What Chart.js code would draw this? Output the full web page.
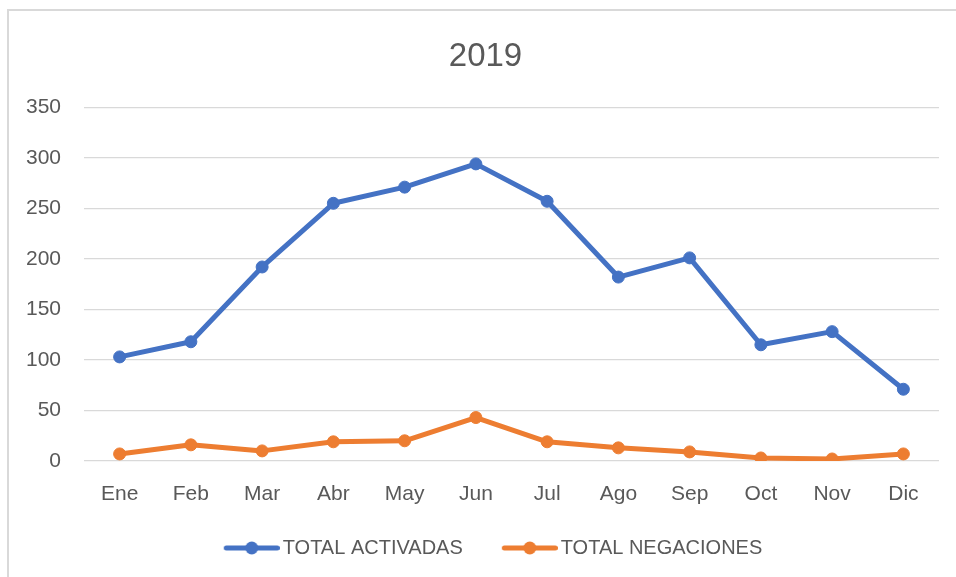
<!DOCTYPE html>
<html>
<head>
<meta charset="utf-8">
<title>2019</title>
<script src="https://cdn.jsdelivr.net/npm/chart.js@4.4.0/dist/chart.umd.min.js"></script>
<style>
  body { margin: 0; background: #fff; }
  #wrap { position: relative; width: 956px; height: 577px; }
  #frame { position: absolute; left: 7px; top: 9px; right: 0; bottom: 0; border-left: 2px solid #d9d9d9; border-top: 2px solid #d9d9d9; }
  #chart { position: absolute; left: 0; top: 0; }
</style>
</head>
<body>
<div id="wrap">
  <div id="frame"></div>
  <canvas id="chart" width="956" height="577"></canvas>
</div>
<script>
const months = ['Ene', 'Feb', 'Mar', 'Abr', 'May', 'Jun', 'Jul', 'Ago', 'Sep', 'Oct', 'Nov', 'Dic'];
const totalActivadas = [103, 118, 192, 255, 271, 294, 257, 182, 201, 115, 128, 71];
const totalNegaciones = [7, 16, 10, 19, 20, 43, 19, 13, 9, 3, 2, 7];
const yTicks = [0, 50, 100, 150, 200, 250, 300, 350];

const BLUE = '#4472c4';
const ORANGE = '#ed7d31';
const TEXT = '#595959';
const FONT = "'Liberation Sans', Arial, sans-serif";

// line-with-dot swatch for the legend; drawn in the right part of the image
// so the empty left part keeps the items apart
function legendMarker(color) {
    const c = document.createElement('canvas');
    c.width = 70;
    c.height = 14;
    const g = c.getContext('2d');
    const x0 = c.width - 56;
    g.strokeStyle = color;
    g.lineWidth = 5;
    g.lineCap = 'round';
    g.beginPath();
    g.moveTo(x0 + 2.5, 7);
    g.lineTo(x0 + 53.5, 7);
    g.stroke();
    g.fillStyle = color;
    g.beginPath();
    g.arc(x0 + 28, 7, 6.5, 0, Math.PI * 2);
    g.fill();
    return c;
}
const markers = [legendMarker(BLUE), legendMarker(ORANGE)];

function series(label, data, color) {
    return {
        label,
        data,
        borderColor: color,
        backgroundColor: color,
        borderWidth: 5,
        borderCapStyle: 'round',
        borderJoinStyle: 'round',
        pointRadius: 6,
        pointBorderWidth: 1,
        pointHoverRadius: 6,
        tension: 0
    };
}

// title and legend sit a bit right of the full-width centre
const shiftBlocks = {
    id: 'shiftBlocks',
    afterLayout(chart) {
        chart.titleBlock.left += 16;
        chart.titleBlock.right += 16;
        chart.legend.left += 20;
        chart.legend.right += 20;
    }
};

new Chart(document.getElementById('chart'), {
    type: 'line',
    data: {
        labels: months,
        datasets: [
            series('TOTAL ACTIVADAS', totalActivadas, BLUE),
            series('TOTAL NEGACIONES', totalNegaciones, ORANGE)
        ]
    },
    options: {
        responsive: false,
        animation: false,
        layout: { padding: { left: 0, right: 17, top: 0, bottom: 9 } },
        plugins: {
            title: {
                display: true,
                text: '2019',
                color: TEXT,
                font: { family: FONT, size: 33, weight: 'normal' },
                padding: { top: 37, bottom: 30.7 }
            },
            legend: {
                position: 'bottom',
                labels: {
                    color: TEXT,
                    font: { family: FONT, size: 20 },
                    usePointStyle: true,
                    pointStyleWidth: 56,
                    padding: 32,
                    generateLabels: chart => Chart.defaults.plugins.legend.labels.generateLabels(chart)
                        .map((item, i) => ({ ...item, pointStyle: markers[i] }))
                }
            },
            tooltip: { enabled: false }
        },
        scales: {
            x: {
                offset: true,
                grid: { display: false, drawTicks: false },
                border: { display: false },
                ticks: { color: TEXT, font: { family: FONT, size: 21 }, padding: 21 },
                afterFit: s => { s.height = 45; }
            },
            y: {
                min: 0,
                max: 350,
                grid: { color: '#d9d9d9', lineWidth: 1.3, drawTicks: false },
                border: { display: false },
                ticks: { color: TEXT, font: { family: FONT, size: 21 }, padding: 23 },
                afterBuildTicks: s => { s.ticks = yTicks.map(v => ({ value: v })); },
                afterFit: s => { s.width = 84; }
            }
        }
    },
    plugins: [shiftBlocks]
});
</script>
</body>
</html>
